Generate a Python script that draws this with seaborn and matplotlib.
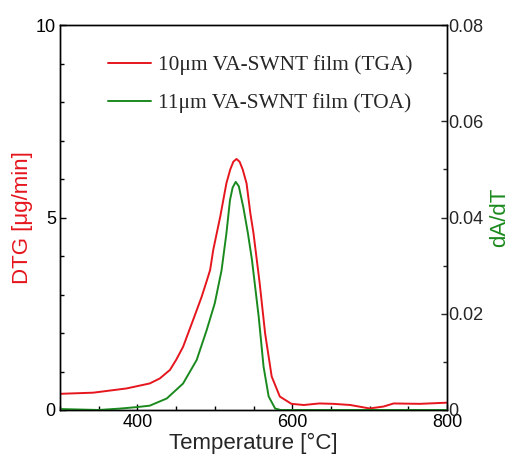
import matplotlib
matplotlib.use("Agg")
import matplotlib.pyplot as plt
import seaborn as sns
import pandas as pd
from matplotlib.ticker import MultipleLocator

# ---- data ----
temp_tga = [300, 343, 386, 416, 429, 442, 450, 459, 472, 483, 490, 494, 498,
            507, 515, 520, 524, 528, 532, 536, 541, 546, 550, 558, 565, 573.5,
            584, 599, 615, 635, 653, 675, 700, 718, 731, 765, 800]
dtg = [0.42, 0.45, 0.56, 0.69, 0.82, 1.04, 1.3, 1.64, 2.34, 2.94, 3.38, 3.64,
       4.16, 5.02, 5.89, 6.25, 6.45, 6.52, 6.45, 6.25, 5.89, 5.1, 4.59, 3.29,
       1.99, 0.87, 0.35, 0.16, 0.13, 0.17, 0.16, 0.13, 0.04, 0.09, 0.17, 0.16,
       0.19]

temp_toa = [300, 350, 378, 399, 416, 438, 459, 476.6, 489.5, 500, 508.7, 515,
            519.6, 523, 527, 531, 537, 542.8, 548, 556.7, 563, 569.6, 578, 585,
            650, 700, 800]
dadt = [0.0002, 0.0, 0.0003, 0.0006, 0.0009, 0.0024, 0.0055, 0.0104, 0.0166,
        0.0222, 0.029, 0.0367, 0.0436, 0.0462, 0.0474, 0.0465, 0.042, 0.0367,
        0.0312, 0.0194, 0.009, 0.0028, 0.0003, 0.0, 0.0, 0.0, 0.0]

label_tga = "10\u03bcm VA-SWNT film (TGA)"
label_toa = "11\u03bcm VA-SWNT film (TOA)"

df_tga = pd.DataFrame({"T": temp_tga, "v": dtg})
df_toa = pd.DataFrame({"T": temp_toa, "v": dadt})

RED = "#e5161d"
GREEN = "#1b8a1e"

sns.set_style("ticks")
plt.rcParams["font.family"] = ["Liberation Sans", "DejaVu Sans"]

fig = plt.figure(figsize=(5.25, 4.63), dpi=100)
ax = fig.add_axes([60 / 525, 53 / 463, 387 / 525, 385 / 463])
ax2 = ax.twinx()

sns.lineplot(data=df_tga, x="T", y="v", ax=ax, color=RED, linewidth=1.4,
             label=label_tga, legend=False)
sns.lineplot(data=df_toa, x="T", y="v", ax=ax2, color=GREEN, linewidth=1.4,
             label=label_toa, legend=False)

ax.set_xlim(300, 800)
ax.set_ylim(0, 10)
ax2.set_ylim(0, 0.08)

ax.xaxis.set_major_locator(MultipleLocator(200))
ax.xaxis.set_minor_locator(MultipleLocator(50))
ax.yaxis.set_major_locator(MultipleLocator(5))
ax.yaxis.set_minor_locator(MultipleLocator(1))
ax2.yaxis.set_major_locator(MultipleLocator(0.02))
ax2.yaxis.set_minor_locator(MultipleLocator(0.01))

ax.tick_params(axis="both", which="both", direction="in", labelsize=13,
               top=False, right=False, length=4, width=1.0, colors="black")
ax.tick_params(axis="both", which="minor", length=3)
ax2.tick_params(axis="y", which="both", direction="in", labelsize=13,
                length=4, width=1.0, pad=1)
ax2.tick_params(axis="y", which="minor", length=3)
ax.tick_params(axis="x", pad=3)
ax.tick_params(axis="y", pad=3)

ax.set_yticks([0, 5, 10])
ax.set_yticklabels(["0", "5", "10"])
ax2.set_yticks([0, 0.02, 0.04, 0.06, 0.08])
ax2.set_yticklabels(["0", "0.02", "0.04", "0.06", "0.08"])

ax.set_xlabel("Temperature [\u00b0C]", fontsize=16, labelpad=1)
ax.set_ylabel("DTG [\u03bcg/min]", fontsize=16, color=RED, labelpad=2)
ax2.set_ylabel("dA/dT", fontsize=16, color=GREEN, labelpad=4)

for a in (ax, ax2):
    for s in a.spines.values():
        s.set_linewidth(1.0)
        s.set_color("black")
        s.set_visible(True)

h1, l1 = ax.get_legend_handles_labels()
h2, l2 = ax2.get_legend_handles_labels()
leg = ax2.legend(h1 + h2, l1 + l2, loc="upper left",
                 bbox_to_anchor=(0.124, 0.922), frameon=False,
                 borderpad=0, borderaxespad=0,
                 prop={"family": "Liberation Serif", "size": 15.4},
                 handlelength=2.0, handletextpad=0.35, labelspacing=0.85)

fig.savefig("out.png", dpi=100)
